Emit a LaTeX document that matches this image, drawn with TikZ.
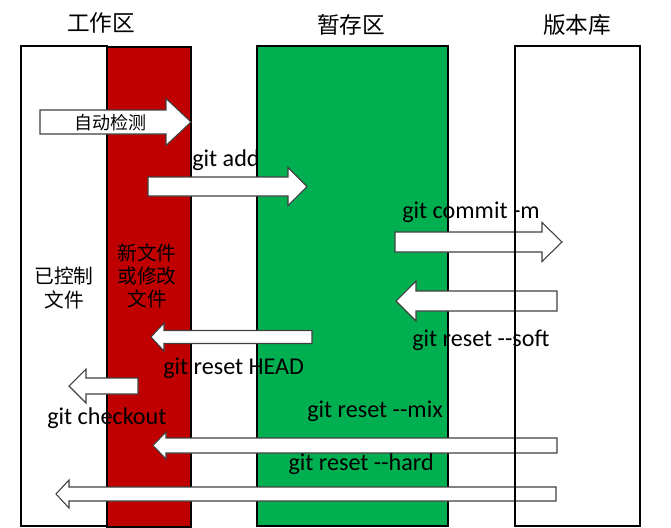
\documentclass[tikz,border=0pt]{standalone}
\usepackage{fontspec}
\setmainfont{Carlito}
\newfontfamily\cjk{Noto Sans CJK SC}
\definecolor{ored}{HTML}{C00000}
\definecolor{ogreen}{HTML}{00B050}
\definecolor{aline}{HTML}{404040}
\newcommand{\blkarrow}[7]{% name, tail x, center y, head x, tip x, body half, head half
  \draw[blockarrow] ({#2},{#3-#6}) coordinate (#1-tail) -- ({#4},{#3-#6}) -- ({#4},{#3-#7}) -- ({#5},{#3}) coordinate (#1-tip) -- ({#4},{#3+#7}) -- ({#4},{#3+#6}) -- ({#2},{#3+#6}) -- cycle;}
\begin{document}
\begin{tikzpicture}[x=0.75pt,y=-0.75pt,
  column/.style={draw=black, line width=0.8pt},
  blockarrow/.style={draw=aline, fill=white, line width=0.8pt, line join=miter},
  title/.style={font=\cjk\fontsize{17}{20}\selectfont, inner sep=0pt},
  inner/.style={font=\cjk\fontsize{14.8}{17.3}\selectfont, align=center, inner sep=0pt},
  cmd/.style={font=\fontsize{18.1}{20}\selectfont, inner sep=0pt}]
\useasboundingbox (0,0) rectangle (671,528);
% columns
\fill[white] (21,46) rectangle (107,526);
\draw[column] (21,46) rectangle (107,526);
\draw[column, fill=ored] (107,47) rectangle (191,527);
\draw[column, fill=ogreen] (257,46) rectangle (448,526);
% titles
\node[title] (t1) at (101,23) {工作区};
\node[title] (t2) at (351,25) {暂存区};
\node[title] (t3) at (577,25) {版本库};
% inner texts
\node[inner] (ctrl) at (64,288) {已控制\\文件};
\node[inner] (newf) at (147,276) {新文件\\或修改\\文件};
% arrows
\blkarrow{auto}{40}{122}{166}{191}{12}{23.5}
\node[font=\cjk\fontsize{13.5}{16}\selectfont, inner sep=0pt] (autot) at (110,123) {自动检测};
\blkarrow{add}{148}{186.5}{288}{307}{9.5}{19}
\blkarrow{commit}{395}{242}{542}{562}{10}{19.5}
\blkarrow{soft}{557}{301}{416}{396}{10}{20}
\blkarrow{head}{312}{337}{164}{151}{6.5}{14}
\blkarrow{checkout}{138}{386}{86}{69}{8}{17}
\blkarrow{mix}{557}{445.5}{166}{153}{7.5}{13.5}
\blkarrow{hard}{556}{494}{69}{56}{7}{14}
% labels
\node[cmd, anchor=base west] (ladd) at (192,166) {git add};
\node[cmd, anchor=base west] (lcommit) at (402,218) {git commit -m};
\node[cmd, anchor=base west] (lsoft) at (412,346.5) {git reset -{}-soft};
\node[cmd, anchor=base west] (lhead) at (163,374) {git reset HEAD};
\node[cmd, anchor=base west] (lcheck) at (47,424) {git checkout};
\node[cmd, anchor=base east] (lmix) at (443,417) {git reset -{}-mix};
\node[cmd, anchor=base east] (lhard) at (434,470.5) {git reset -{}-hard};
% repository box on top
\draw[column] (515,46) rectangle (640,526);
\end{tikzpicture}
\end{document}
